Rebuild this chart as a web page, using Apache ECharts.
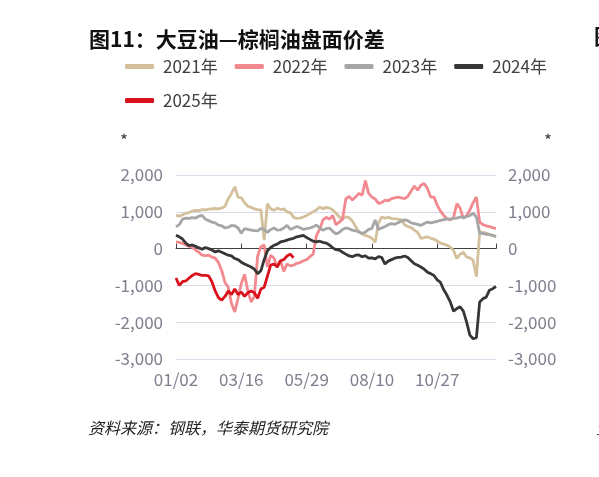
<!DOCTYPE html>
<html>
<head>
<meta charset="utf-8">
<script src="https://cdn.jsdelivr.net/npm/echarts@6/dist/echarts.min.js"></script>
<style>
html,body{margin:0;padding:0;background:#fff;}
#c{width:599px;height:477px;}
</style>
</head>
<body>
<div id="c"></div>
<script>
// tick labels on the category axis (every 20th category)
const tickLabels = ['01/02', '03/16', '05/29', '08/10', '10/27'];
const tickDays = [2, 75, 149, 222, 300];
const seriesNames = ['2021年', '2022年', '2023年', '2024年', '2025年'];

const y2021 = [900,880,920,960,980,1020,1040,1030,1060,1050,1070,1080,1090,1080,1100,1150,1350,1500,1680,1400,
  1380,1250,1150,1120,1080,1060,1050,230,1220,1080,1040,1100,1060,1080,1000,980,850,820,830,860,
  900,950,1000,1050,1130,1080,1120,1100,1050,960,860,800,860,840,750,600,450,400,360,330,
  280,170,700,860,830,850,820,810,800,780,650,600,570,500,440,280,300,320,280,260,
  200,150,120,90,40,-50,-270,-150,-100,-230,-250,-320,-760,440,440,420,380,360,320];

const y2022 = [180,170,140,100,60,30,-40,-100,-180,-190,-180,-230,-260,-380,-600,-920,-1050,-1500,-1720,-1350,
  -950,-700,-1150,-1450,-1300,-200,50,100,-500,-180,-260,-480,-330,-620,-420,-470,-450,-400,-380,-330,
  -300,-220,-150,350,520,780,850,800,900,650,720,800,1350,1420,1320,1400,1500,1450,1850,1500,
  1400,1350,1230,1250,1320,1300,1360,1380,1400,1380,1360,1420,1560,1700,1590,1720,1770,1630,1400,1400,
  1180,1020,900,810,780,850,1220,1100,820,900,1050,1250,1400,720,650,620,600,570,540];

const y2023 = [590,650,800,830,820,840,830,880,900,800,760,720,700,640,620,560,580,630,620,560,
  420,540,520,500,490,480,550,520,440,520,560,500,510,560,630,520,560,600,570,520,
  540,560,590,640,560,500,540,560,470,400,440,520,560,540,500,480,460,410,450,520,
  550,780,520,560,600,650,680,660,700,750,780,760,700,680,660,630,680,720,700,720,
  740,770,790,810,800,820,830,860,850,870,900,960,860,420,410,390,380,360,330];

const y2024 = [360,320,260,150,80,100,60,20,-20,30,0,-40,-90,-60,-100,-140,-180,-200,-270,-300,
  -370,-420,-460,-500,-560,-680,-600,-300,-60,30,90,120,180,200,230,260,280,320,340,360,
  300,250,200,180,200,170,150,100,20,-30,-40,-100,-150,-200,-220,-180,-170,-220,-200,-260,
  -250,-280,-220,-240,-420,-340,-300,-260,-240,-230,-200,-240,-330,-410,-450,-500,-560,-640,-680,-730,
  -850,-920,-1120,-1270,-1450,-1700,-1630,-1580,-1700,-2000,-2350,-2450,-2420,-1450,-1360,-1320,-1130,-1090,-1030];

const y2025 = [-800,-1000,-900,-880,-800,-730,-680,-700,-730,-730,-740,-900,-1150,-1330,-1400,-1300,-1150,-1250,-1100,-1250,
  -1180,-1300,-1200,-1150,-1200,-1350,-1100,-1050,-750,-450,-420,-500,-330,-300,-200,-150,-250];

const colors = ['#d4c09c', '#f2898f', '#a6a6a6', '#363636', '#d9111c'];

// category dates (MM/DD), aligned so every 20th category is a tick label
const nCat = y2021.length;
const monthStarts = [0,31,59,90,120,151,181,212,243,273,304,334,365];
function dayToLabel(d) {
  d = Math.min(365, Math.max(1, Math.round(d)));
  let m = 0;
  while (d > monthStarts[m + 1]) m++;
  const dd = d - monthStarts[m];
  return String(m + 1).padStart(2, '0') + '/' + String(dd).padStart(2, '0');
}
const categories = [];
for (let i = 0; i < nCat; i++) {
  const seg = Math.floor(i / 20);
  let d;
  if (seg < tickDays.length - 1) {
    d = tickDays[seg] + (tickDays[seg + 1] - tickDays[seg]) * (i % 20) / 20;
  } else {
    d = tickDays[tickDays.length - 1] + (365 - tickDays[tickDays.length - 1]) * (i - 80) / (nCat - 1 - 80);
  }
  categories.push(i % 20 === 0 ? tickLabels[seg] : dayToLabel(d));
}

const dataSets = [y2021, y2022, y2023, y2024, y2025];
const fontF = '"Noto Sans CJK SC", "Noto Sans", sans-serif';
const fmt = v => v.toLocaleString('en-US');

const chart = echarts.init(document.getElementById('c'));
chart.setOption({
  animation: false,
  backgroundColor: '#ffffff',
  color: colors,
  textStyle: { fontFamily: fontF },
  title: {
    text: '图11：大豆油—棕榈油盘面价差',
    left: 84, top: 24,
    textStyle: { fontSize: 21, fontWeight: 'bold', color: '#111', fontFamily: fontF }
  },
  legend: {
    left: 120, top: 53,
    itemWidth: 29, itemHeight: 5,
    itemGap: 17,
    icon: 'roundRect',
    data: seriesNames,
    textStyle: { fontSize: 17, color: '#404040', padding: [0, 4, 0, 4], fontFamily: fontF }
  },
  grid: { left: 176, right: 103, top: 175, bottom: 118, containLabel: false, outerBoundsMode: 'none' },
  xAxis: {
    type: 'category',
    data: categories,
    boundaryGap: false,
    axisLine: { show: true, lineStyle: { color: '#404040', width: 1 } },
    axisTick: {
      show: true, inside: true, length: 5,
      lineStyle: { color: '#404040' },
      interval: (idx) => idx % 20 === 0 || idx === nCat - 1
    },
    axisLabel: {
      color: '#7f7f8e', fontSize: 17, margin: 12,
      interval: (idx) => idx % 20 === 0
    },
    splitLine: { show: false }
  },
  yAxis: [
    {
      type: 'value', min: -3000, max: 2000, interval: 1000,
      name: '*', nameLocation: 'end', nameGap: 26,
      nameTextStyle: { color: '#404040', fontSize: 17, align: 'right', padding: [0, 48, 0, 0] },
      axisLine: { show: false }, axisTick: { show: false },
      axisLabel: { color: '#7f7f8e', fontSize: 17, margin: 13, formatter: fmt },
      splitLine: { show: true, lineStyle: { color: '#d9dce9', width: 1 } }
    },
    {
      type: 'value', min: -3000, max: 2000, interval: 1000, position: 'right',
      name: '*', nameLocation: 'end', nameGap: 26,
      nameTextStyle: { color: '#404040', fontSize: 17, align: 'left', padding: [0, 0, 0, 48] },
      axisLine: { show: false }, axisTick: { show: false },
      axisLabel: { color: '#7f7f8e', fontSize: 17, margin: 12, formatter: fmt },
      splitLine: { show: false }
    }
  ],
  series: seriesNames.map((n, k) => ({
    name: n,
    type: 'line',
    data: dataSets[k],
    showSymbol: false,
    symbol: 'none',
    lineStyle: { width: 2.8, color: colors[k] },
    itemStyle: { color: colors[k] },
    z: 2 + k
  })),
  graphic: [
    {
      type: 'text', left: 88, top: 420,
      style: { text: '资料来源：钢联，华泰期货研究院', fill: '#222', font: 'italic 16px "Noto Sans CJK SC", sans-serif' }
    },
    {
      type: 'text', left: 594, top: 26,
      style: { text: '图12', fill: '#111', font: 'bold 21px "Noto Sans CJK SC", sans-serif' }
    },
    {
      type: 'text', left: 596, top: 420,
      style: { text: '资料', fill: '#222', font: 'italic 16px "Noto Sans CJK SC", sans-serif' }
    }
  ]
});
</script>
</body>
</html>
